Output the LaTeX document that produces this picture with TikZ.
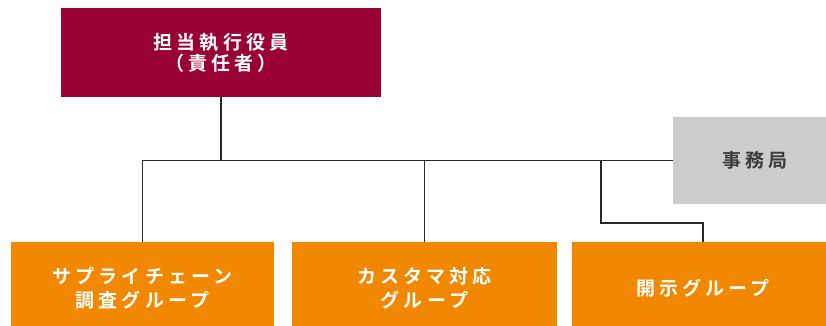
\documentclass[tikz,border=0pt]{standalone}
\usepackage{fontspec}
\setmainfont{Noto Sans CJK JP}[BoldFont={Noto Sans CJK JP Bold}, LetterSpace=22]
\definecolor{headred}{RGB}{153,0,51}
\definecolor{grouporange}{RGB}{242,135,0}
\definecolor{officegray}{RGB}{204,204,204}
\definecolor{linegray}{RGB}{40,40,40}

\begin{document}
\begin{tikzpicture}[x=1pt, y=-1pt,
    box/.style={minimum height=92, minimum width=263, align=center, inner sep=0,
        text=white, font=\fontsize{19}{24}\selectfont\bfseries},
    link/.style={draw=linegray, line width=1.5pt}]
    \useasboundingbox(0, 0)rectangle(826, 325);
    \clip(0, 0)rectangle(826, 325);
    \node[box, fill=headred, minimum width=320, minimum height=89, font=\fontsize{19}{21}\selectfont\bfseries](head)at(221, 52.5){担当執行役員\\（責任者）};
    \node[box, fill=officegray, minimum width=164, minimum height=87, text=linegray!90](office)at(755, 160.5){事務局};
    \node[box, fill=grouporange](supply)at(142.5, 288){サプライチェーン\\調査グループ};
    \node[box, fill=grouporange, minimum width=265](customer)at(424.5, 288){カスタマ対応\\グループ};
    \node[box, fill=grouporange, minimum width=262](disclose)at(703, 288){開示グループ};
    \coordinate(bend)at(601, 223);
    \draw[link](supply.north)|-(office.west);
    \draw[link](head.south)--(head.south |- office.west);
    \draw[link](customer.north)--(customer.north |- office.west);
    \draw[link](bend |- office.west)--(bend)-|(disclose.north);
\end{tikzpicture}
\end{document}
